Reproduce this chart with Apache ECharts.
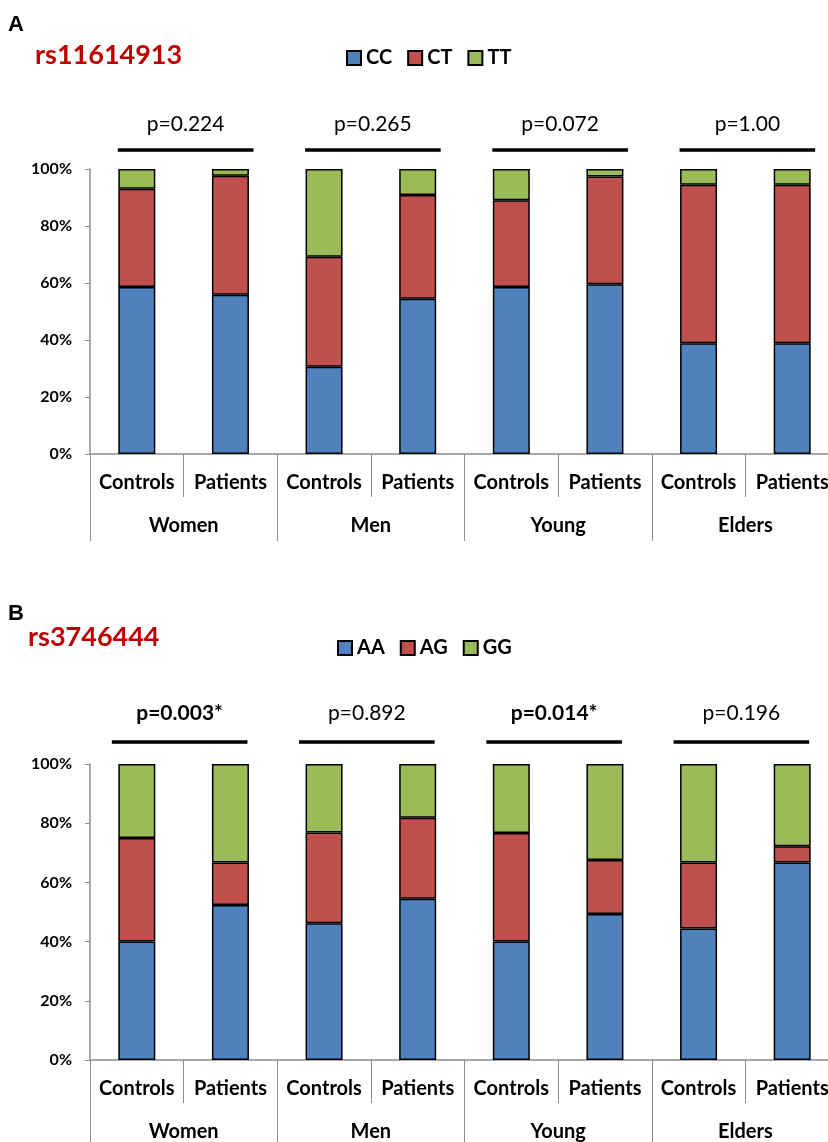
<!DOCTYPE html>
<html>
<head>
<meta charset="utf-8">
<script src="https://cdn.jsdelivr.net/npm/echarts@6/dist/echarts.min.js"></script>
<style>
  html, body { margin: 0; padding: 0; background: #fff; }
  #chart { width: 828px; height: 1142px; }
</style>
</head>
<body>
<div id="chart"></div>
<script>
// Groups and sub-groups along the category axis
const groups = ['Women', 'Men', 'Young', 'Elders'];
const subgroups = ['Controls', 'Patients'];
const yTicks = [0, 20, 40, 60, 80, 100];

// rs11614913 genotype frequencies (%), order: Women C/P, Men C/P, Young C/P, Elders C/P
const ccA = [58.6, 55.9, 30.6, 54.5, 58.6, 59.6, 38.9, 38.9];
const ctA = [34.5, 41.7, 38.6, 36.4, 30.4, 37.8, 55.6, 55.6];
const ttA = [6.9, 2.4, 30.8, 9.1, 11.0, 2.6, 5.5, 5.5];
const pA = ['p=0.224', 'p=0.265', 'p=0.072', 'p=1.00'];
const pBoldA = [false, false, false, false];

// rs3746444 genotype frequencies (%)
const aaB = [40.0, 52.4, 46.2, 54.5, 40.0, 49.3, 44.4, 66.7];
const agB = [35.0, 14.3, 30.7, 27.3, 36.7, 18.3, 22.3, 5.5];
const ggB = [25.0, 33.3, 23.1, 18.2, 23.3, 32.4, 33.3, 27.8];
const pB = ['p=0.003*', 'p=0.892', 'p=0.014*', 'p=0.196'];
const pBoldB = [true, false, true, false];

const BLUE = '#4F81BD', RED = '#C0504D', GREEN = '#9BBB59';
const AXIS_GRAY = '#8c8c8c';
const FONT = 'Lato, "Open Sans", sans-serif';

const xCats = [];
groups.forEach(g => subgroups.forEach(s => xCats.push(g + '|' + s)));

function barSeries(name, data, color, idx) {
  return {
    name: name, type: 'bar', stack: 'p' + idx,
    xAxisIndex: idx * 2, yAxisIndex: idx,
    data: data, barWidth: 37,
    itemStyle: { color: color, borderColor: '#000', borderWidth: 1.5 },
    emphasis: { disabled: true }
  };
}

// p-value bracket above each group pair
function pSeries(idx, labels, bolds, leftPad, rightPad, lineDy, textDy) {
  return {
    type: 'custom', xAxisIndex: idx * 2, yAxisIndex: idx,
    clip: false, silent: true,
    data: groups.map((g, i) => [2 * i, 100]),
    encode: { x: 0, y: 1 },
    renderItem: function (params, api) {
      const i = params.dataIndex;
      const a = api.coord([2 * i, 100]);
      const b = api.coord([2 * i + 1, 100]);
      const x1 = a[0] - leftPad, x2 = b[0] + rightPad;
      return {
        type: 'group',
        children: [
          { type: 'line', shape: { x1: x1, y1: a[1] - lineDy, x2: x2, y2: a[1] - lineDy },
            style: { stroke: '#000', lineWidth: 3.5 } },
          { type: 'text', style: {
              text: labels[i], x: (x1 + x2) / 2, y: a[1] - textDy,
              align: 'center', verticalAlign: 'middle',
              font: (bolds[i] ? 'bold ' : '') + '21px ' + FONT, fill: '#000' } }
        ]
      };
    }
  };
}

function axesFor(idx) {
  return [
    {
      type: 'category', gridIndex: idx, data: xCats, position: 'bottom',
      axisLine: { show: true, lineStyle: { color: AXIS_GRAY, width: 1.5 } },
      axisTick: { show: true, interval: 0, length: 43, lineStyle: { color: AXIS_GRAY, width: 1 } },
      axisLabel: { interval: 0, margin: 19, fontFamily: FONT, fontWeight: 'bold', fontSize: 20, color: '#000',
        formatter: v => v.split('|')[1] }
    },
    {
      type: 'category', gridIndex: idx, data: groups, position: 'bottom',
      axisLine: { show: false },
      axisTick: { show: true, interval: 0, length: 87, lineStyle: { color: AXIS_GRAY, width: 1 } },
      axisLabel: { interval: 0, margin: 62, fontFamily: FONT, fontWeight: 'bold', fontSize: 20, color: '#000' }
    }
  ];
}

function yAxisFor(idx) {
  return {
    type: 'value', gridIndex: idx, min: 0, max: 100, interval: 20,
    splitLine: { show: false },
    axisLine: { show: true, lineStyle: { color: AXIS_GRAY, width: 1.5 } },
    axisTick: { show: true, length: 5, lineStyle: { color: AXIS_GRAY } },
    axisLabel: { margin: 18, fontFamily: FONT, fontWeight: 'bold', fontSize: 16, color: '#000',
      formatter: '{value}%' }
  };
}

const legendText = { fontFamily: FONT, fontWeight: 'bold', fontSize: 20, color: '#000' };

const option = {
  animation: false,
  backgroundColor: '#fff',
  title: [
    { text: 'A', left: 8, top: 14, padding: 0, textStyle: { fontFamily: 'Liberation Sans, Arial', fontWeight: 'bold', fontSize: 22, color: '#000' } },
    { text: 'rs11614913', left: 35, top: 42, padding: 0, textStyle: { fontFamily: FONT, fontWeight: 'bold', fontSize: 27, color: '#C00000' } },
    { text: 'B', left: 8, top: 603, padding: 0, textStyle: { fontFamily: 'Liberation Sans, Arial', fontWeight: 'bold', fontSize: 22, color: '#000' } },
    { text: 'rs3746444', left: 28, top: 624, padding: 0, textStyle: { fontFamily: FONT, fontWeight: 'bold', fontSize: 27, color: '#C00000' } }
  ],
  legend: [
    { data: ['CC', 'CT', 'TT'], left: 346, top: 48, padding: 0, itemWidth: 14, itemHeight: 14, itemGap: 15,
      icon: 'rect', textStyle: legendText, selectedMode: false },
    { data: ['AA', 'AG', 'GG'], left: 337, top: 638, padding: 0, itemWidth: 14, itemHeight: 14, itemGap: 15,
      icon: 'rect', textStyle: legendText, selectedMode: false }
  ],
  grid: [
    { left: 90, top: 169, width: 749, height: 285, outerBoundsMode: 'none' },
    { left: 90, top: 764, width: 749, height: 296, outerBoundsMode: 'none' }
  ],
  xAxis: [].concat(axesFor(0), axesFor(1)),
  yAxis: [yAxisFor(0), yAxisFor(1)],
  series: [
    barSeries('CC', ccA, BLUE, 0),
    barSeries('CT', ctA, RED, 0),
    barSeries('TT', ttA, GREEN, 0),
    barSeries('AA', aaB, BLUE, 1),
    barSeries('AG', agB, RED, 1),
    barSeries('GG', ggB, GREEN, 1),
    pSeries(0, pA, pBoldA, 19, 23, 19, 45),
    pSeries(1, pB, pBoldB, 25, 17, 22, 51)
  ]
};

const chart = echarts.init(document.getElementById('chart'), null, { renderer: 'canvas' });
chart.setOption(option);
</script>
</body>
</html>
